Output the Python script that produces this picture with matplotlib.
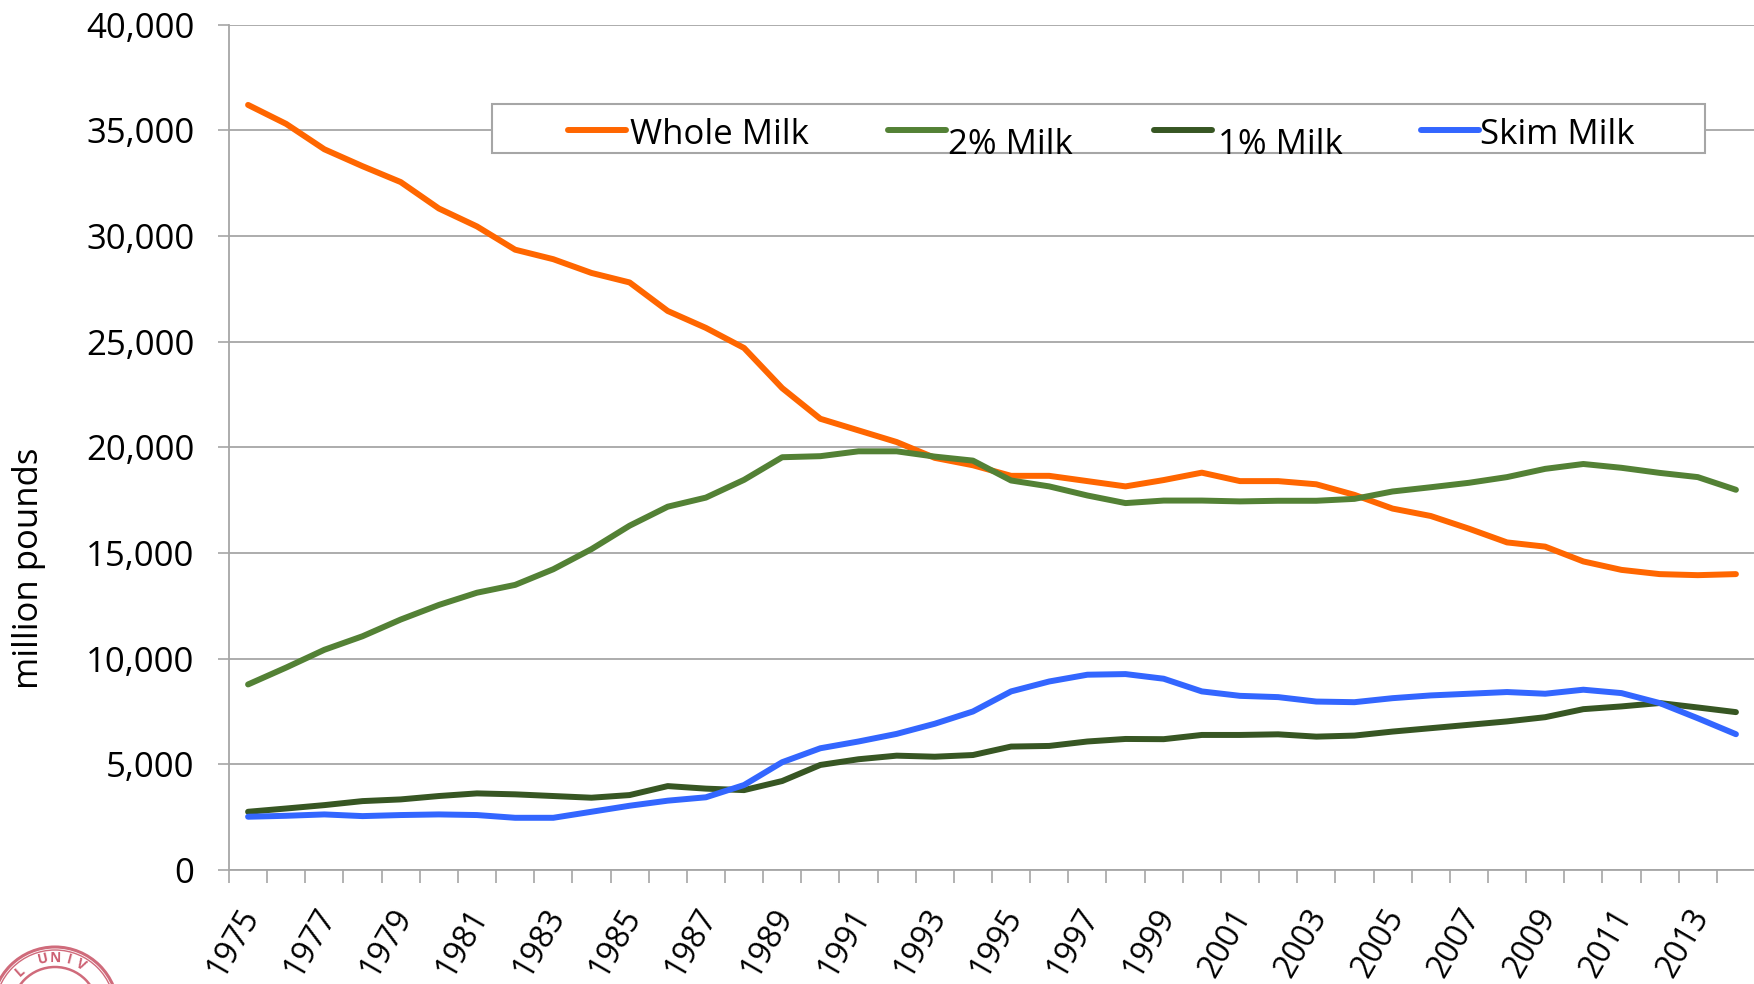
import numpy as np
import matplotlib
matplotlib.use("Agg")
import matplotlib.pyplot as plt
from matplotlib.lines import Line2D
from matplotlib.patches import Rectangle, Circle
from matplotlib.transforms import ScaledTranslation
from matplotlib.ticker import FuncFormatter

plt.rcParams['font.family'] = ['Open Sans', 'DejaVu Sans']

# U.S. fluid milk sales by type, million pounds
years = list(range(1975, 2015))
whole_milk = [36200, 35300, 34100, 33300, 32550, 31300, 30450, 29350, 28900, 28250,
              27800, 26450, 25650, 24700, 22800, 21350, 20800, 20250, 19500, 19150,
              18650, 18650, 18400, 18150, 18450, 18800, 18400, 18400, 18250, 17750,
              17100, 16750, 16150, 15500, 15300, 14600, 14200, 14000, 13950, 14000]
two_pct_milk = [8780, 9580, 10420, 11060, 11850, 12540, 13120, 13490, 14230, 15180,
                16290, 17190, 17620, 18460, 19530, 19580, 19810, 19810, 19560, 19370,
                18430, 18150, 17720, 17360, 17480, 17480, 17440, 17470, 17470, 17560,
                17910, 18110, 18320, 18590, 18980, 19210, 19030, 18790, 18590, 17990]
one_pct_milk = [2755, 2910, 3070, 3260, 3340, 3500, 3625, 3580, 3500, 3420,
                3545, 3970, 3850, 3780, 4210, 4970, 5240, 5410, 5360, 5440,
                5840, 5870, 6080, 6200, 6190, 6390, 6390, 6420, 6310, 6360,
                6550, 6710, 6870, 7030, 7230, 7610, 7740, 7900, 7690, 7470]
skim_milk = [2520, 2565, 2630, 2550, 2600, 2630, 2600, 2470, 2470, 2755,
             3040, 3280, 3440, 4020, 5100, 5760, 6080, 6440, 6920, 7500,
             8450, 8920, 9240, 9270, 9050, 8450, 8240, 8180, 7970, 7940,
             8130, 8260, 8340, 8420, 8340, 8530, 8370, 7900, 7180, 6425]

series_names = ["Whole Milk", "2% Milk", "1% Milk", "Skim Milk"]
series_values = [whole_milk, two_pct_milk, one_pct_milk, skim_milk]
series_colors = ["#FF6600", "#538135", "#375623", "#3366FF"]
y_ticks = list(range(0, 40001, 5000))
x_tick_years = years[::2]

W, H = 1754, 984
fig = plt.figure(figsize=(W / 100, H / 100), dpi=100)


def fx(px):
    return px / W


def fy(py):
    return 1 - py / H


left, right, top, bottom = 229, 1755, 24.6, 870
ax = fig.add_axes([fx(left), fy(bottom), fx(right - left), (bottom - top) / H])

grey = "#A6A6A6"
line_w = 4.3
x = np.arange(len(years))
for name, vals, col in zip(series_names, series_values, series_colors):
    ax.plot(x, vals, color=col, lw=line_w, solid_capstyle="round",
            solid_joinstyle="round", label=name)

ax.set_xlim(-0.5, len(years) - 0.5)
ax.set_ylim(0, 40000)
ax.set_yticks(y_ticks)
ax.yaxis.set_major_formatter(FuncFormatter(lambda v, p: f"{int(v):,}"))
ax.grid(axis="y", color=grey, lw=1.3)
ax.set_axisbelow(True)
for s in ["top", "right"]:
    ax.spines[s].set_visible(False)
for s in ["left", "bottom"]:
    ax.spines[s].set_color(grey)
    ax.spines[s].set_linewidth(1.3)

ax.tick_params(axis="y", direction="out", length=8, width=1.2, color=grey,
               pad=17, labelsize=25, labelcolor="black")

# tick marks between categories, labels on every other year
ax.set_xticks(np.arange(-0.5, len(years), 1.0))
ax.set_xticklabels([])
ax.tick_params(axis="x", which="major", direction="out", length=9, width=1.2,
               color=grey)
idx = [years.index(yv) for yv in x_tick_years]
ax.set_xticks(idx, minor=True)
ax.set_xticklabels([str(v) for v in x_tick_years], minor=True)
ax.tick_params(axis="x", which="minor", length=0, pad=24, labelsize=23)
shift = ScaledTranslation(18 / 100, 0, fig.dpi_scale_trans)
for lab in ax.get_xticklabels(minor=True):
    lab.set_rotation(60)
    lab.set_ha("right")
    lab.set_va("top")
    lab.set_transform(lab.get_transform() + shift)

fig.text(fx(29), fy(568), "million pounds", rotation=90, ha="center",
         va="center", fontsize=25)

# legend box with entries laid out in one row
fig.patches.append(Rectangle((fx(492), fy(153)), fx(1705 - 492), (153 - 104) / H,
                             transform=fig.transFigure, facecolor="white",
                             edgecolor=grey, lw=1.5, zorder=5))
entries = [(568, 630, 135), (888, 948, 145), (1154, 1218, 145), (1421, 1480, 135)]
for (hx, tx, ty), name, col in zip(entries, series_names, series_colors):
    fig.add_artist(Line2D([fx(hx), fx(hx + 58)], [fy(130), fy(130)],
                          transform=fig.transFigure, color=col, lw=line_w,
                          solid_capstyle="round", zorder=6))
    fig.text(fx(tx), fy(ty), name, ha="left", va="center", fontsize=25, zorder=6)

# university seal peeking in at the lower-left corner
seal_col = "#C0394F"
cx, cy = 55, 1010
for r, lw in [(63, 2.2), (60, 1.0), (43, 1.8)]:
    fig.patches.append(Circle((cx, H - cy), r, transform=None, fill=False,
                              edgecolor=seal_col, lw=lw, alpha=0.75, zorder=4))
seal_text = "CORNELL UNIVERSITY"
step = 14.2
start = -70 - 4 * step
for i, ch in enumerate(seal_text):
    a = start + i * step
    ar = np.deg2rad(a)
    px = cx + 52 * np.sin(ar)
    py = cy - 52 * np.cos(ar)
    if 8 <= px <= 105 and py <= H - 12:
        fig.text(fx(px), fy(py), ch, rotation=-a, rotation_mode="anchor",
                 ha="center", va="center", fontsize=10, fontweight="bold",
                 color=seal_col, alpha=0.8)

fig.savefig("out.png", dpi=100)
